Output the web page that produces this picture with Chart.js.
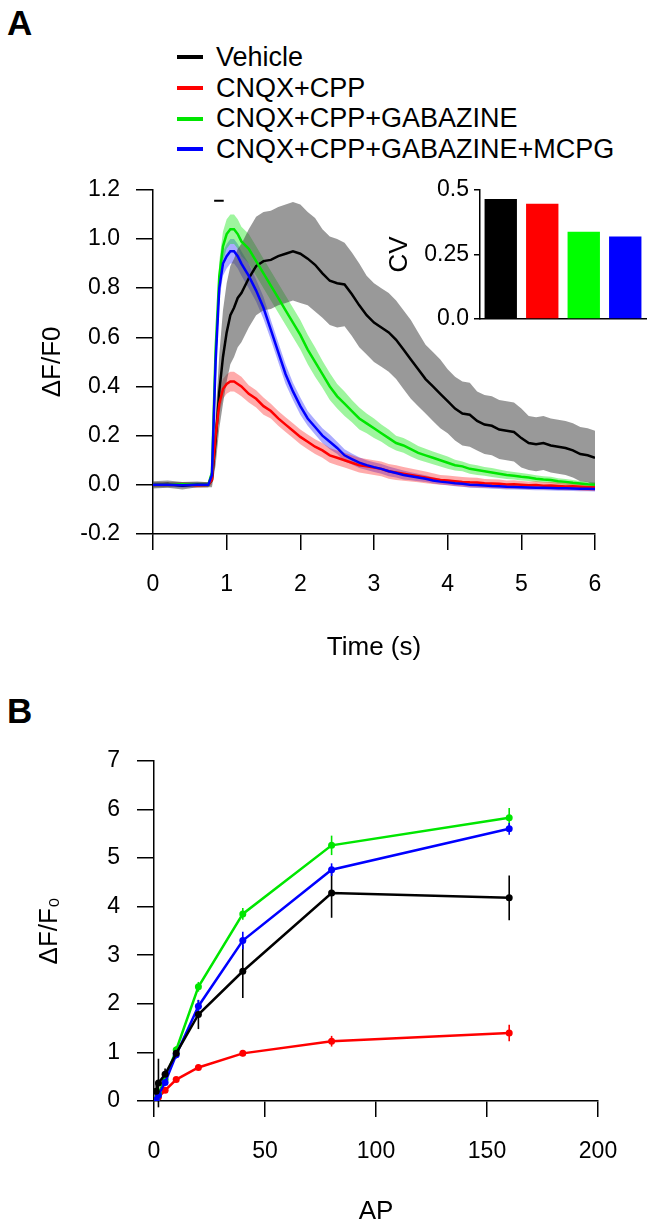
<!DOCTYPE html>
<html>
<head>
<meta charset="utf-8">
<script src="https://cdn.jsdelivr.net/npm/chart.js@4.4.1/dist/chart.umd.min.js"></script>
<style>
  html, body { margin: 0; padding: 0; background: #fff; }
  body { width: 653px; height: 1230px; position: relative; overflow: hidden;
         font-family: "Liberation Sans", Arial, Helvetica, sans-serif; color: #000; }
  .box { position: absolute; }
  .letter { position: absolute; font-weight: bold; font-size: 35px; line-height: 1; }
  #legend { position: absolute; left: 177px; top: 42px; }
  .row { display: flex; align-items: center; height: 30.7px; font-size: 27px; white-space: nowrap; }
  .swatch { width: 26px; height: 4px; margin-right: 13px; }
</style>
</head>
<body>
<div class="letter" style="left:7px;top:5px">A</div>
<div id="legend"></div>
<div class="box" style="left:0;top:160px;width:653px;height:520px"><canvas id="traceChart"></canvas></div>
<div class="box" style="left:380px;top:170px;width:273px;height:170px"><canvas id="cvChart"></canvas></div>
<div class="letter" style="left:7px;top:693px">B</div>
<div class="box" style="left:0;top:730px;width:653px;height:500px"><canvas id="apChart"></canvas></div>

<script>
// condition names and colours
const conditions = ['Vehicle', 'CNQX+CPP', 'CNQX+CPP+GABAZINE', 'CNQX+CPP+GABAZINE+MCPG'];
const lineColors = ['#000000', '#ff0000', '#00e600', '#0000ff'];
const bandColors = ['rgba(70,70,70,0.55)', 'rgba(255,0,0,0.33)', 'rgba(0,230,0,0.38)', 'rgba(0,0,255,0.33)'];

// panel A: mean trace and SEM (s, dF/F0)
const timeS = [0, 0.2, 0.4, 0.6, 0.75,
  0.8, 0.85, 0.9, 0.95, 1.0, 1.05, 1.1, 1.15, 1.2,
  1.3, 1.4, 1.5, 1.6, 1.7, 1.8, 1.9, 2.0, 2.1, 2.2,
  2.3, 2.4, 2.5, 2.6, 2.7, 2.8, 2.9, 3.0, 3.1, 3.2,
  3.3, 3.4, 3.5, 3.6, 3.7, 3.8, 3.9, 4.0, 4.1, 4.2,
  4.3, 4.4, 4.5, 4.6, 4.7, 4.8, 4.9, 5.0, 5.1, 5.2,
  5.3, 5.4, 5.5, 5.6, 5.7, 5.8, 5.9, 6.0];

const vehicleMean = [0.0, 0.003, -0.004, 0.002, 0.0,
  0.02, 0.18, 0.38, 0.52, 0.62, 0.69, 0.72, 0.76, 0.78,
  0.84, 0.89, 0.91, 0.915, 0.93, 0.94, 0.95, 0.94, 0.92, 0.895,
  0.86, 0.83, 0.82, 0.815, 0.775, 0.73, 0.69, 0.66, 0.64, 0.62,
  0.59, 0.55, 0.51, 0.47, 0.43, 0.40, 0.37, 0.34, 0.31, 0.29,
  0.285, 0.26, 0.245, 0.24, 0.225, 0.22, 0.215, 0.19, 0.17, 0.165,
  0.17, 0.16, 0.155, 0.15, 0.14, 0.125, 0.12, 0.11];
const vehicleSem = [0.015, 0.015, 0.015, 0.012, 0.01,
  0.03, 0.1, 0.15, 0.19, 0.2, 0.2, 0.2, 0.2, 0.2,
  0.2, 0.2, 0.2, 0.2, 0.2, 0.2, 0.2, 0.2, 0.19, 0.19,
  0.18, 0.18, 0.18, 0.17, 0.17, 0.17, 0.16, 0.16, 0.16, 0.16,
  0.16, 0.16, 0.16, 0.15, 0.14, 0.14, 0.14, 0.13, 0.13, 0.13,
  0.13, 0.12, 0.12, 0.12, 0.12, 0.12, 0.12, 0.12, 0.11, 0.11,
  0.11, 0.11, 0.11, 0.11, 0.11, 0.11, 0.11, 0.11];

const cnqxMean = [0.0, 0.0, 0.002, -0.002, 0.0,
  0.02, 0.2, 0.33, 0.39, 0.41, 0.42, 0.42, 0.41, 0.40,
  0.37, 0.35, 0.32, 0.30, 0.27, 0.245, 0.22, 0.195, 0.175, 0.155,
  0.14, 0.12, 0.11, 0.10, 0.09, 0.08, 0.075, 0.07, 0.065, 0.055,
  0.05, 0.045, 0.04, 0.035, 0.03, 0.025, 0.02, 0.018, 0.015, 0.012,
  0.01, 0.009, 0.006, 0.005, 0.004, 0.001, 0.002, 0.0, -0.002, -0.001,
  -0.004, -0.003, -0.005, -0.007, -0.006, -0.008, -0.01, -0.01];
const cnqxSem = [0.01, 0.01, 0.01, 0.01, 0.01,
  0.02, 0.04, 0.04, 0.04, 0.04, 0.04, 0.04, 0.04, 0.04,
  0.035, 0.035, 0.035, 0.03, 0.03, 0.03, 0.03, 0.03, 0.03, 0.03,
  0.03, 0.03, 0.03, 0.03, 0.03, 0.03, 0.03, 0.03, 0.03, 0.03,
  0.03, 0.028, 0.026, 0.025, 0.024, 0.022, 0.02, 0.02, 0.02, 0.02,
  0.02, 0.02, 0.018, 0.018, 0.018, 0.017, 0.017, 0.016, 0.016, 0.016,
  0.015, 0.015, 0.015, 0.015, 0.015, 0.015, 0.015, 0.015];

const gabazineMean = [0.0, 0.0, 0.002, 0.0, 0.0,
  0.05, 0.55, 0.85, 0.97, 1.02, 1.04, 1.04, 1.02, 0.99,
  0.96, 0.91, 0.86, 0.81, 0.76, 0.71, 0.66, 0.61, 0.55, 0.50,
  0.45, 0.40, 0.36, 0.33, 0.30, 0.27, 0.25, 0.23, 0.21, 0.19,
  0.17, 0.16, 0.145, 0.13, 0.12, 0.11, 0.10, 0.09, 0.08, 0.075,
  0.065, 0.06, 0.055, 0.05, 0.045, 0.04, 0.037, 0.033, 0.03, 0.025,
  0.022, 0.02, 0.015, 0.012, 0.008, 0.005, 0.002, 0.0];
const gabazineSem = [0.01, 0.01, 0.01, 0.01, 0.01,
  0.02, 0.05, 0.06, 0.06, 0.06, 0.06, 0.06, 0.06, 0.06,
  0.06, 0.06, 0.06, 0.06, 0.06, 0.06, 0.06, 0.06, 0.06, 0.06,
  0.055, 0.055, 0.05, 0.05, 0.045, 0.045, 0.04, 0.04, 0.035, 0.035,
  0.03, 0.03, 0.03, 0.028, 0.027, 0.026, 0.025, 0.025, 0.022, 0.02,
  0.02, 0.02, 0.018, 0.018, 0.017, 0.016, 0.015, 0.015, 0.014, 0.014,
  0.013, 0.013, 0.012, 0.012, 0.012, 0.011, 0.011, 0.01];

const mcpgMean = [0.0, 0.0, -0.002, 0.0, 0.0,
  0.04, 0.5, 0.8, 0.9, 0.93, 0.95, 0.95, 0.93, 0.90,
  0.85, 0.79, 0.72, 0.63, 0.54, 0.45, 0.38, 0.32, 0.27, 0.235,
  0.20, 0.175, 0.15, 0.12, 0.105, 0.09, 0.08, 0.072, 0.065, 0.055,
  0.048, 0.04, 0.035, 0.03, 0.025, 0.018, 0.013, 0.01, 0.006, 0.004,
  0.0, -0.001, -0.003, -0.005, -0.006, -0.008, -0.009, -0.01, -0.011, -0.012,
  -0.012, -0.013, -0.014, -0.014, -0.015, -0.016, -0.016, -0.017];
const mcpgSem = [0.01, 0.01, 0.01, 0.01, 0.01,
  0.02, 0.04, 0.05, 0.05, 0.05, 0.05, 0.05, 0.05, 0.05,
  0.05, 0.045, 0.045, 0.04, 0.04, 0.04, 0.035, 0.035, 0.03, 0.03,
  0.03, 0.03, 0.025, 0.025, 0.022, 0.022, 0.02, 0.02, 0.02, 0.02,
  0.018, 0.018, 0.016, 0.015, 0.014, 0.013, 0.012, 0.012, 0.012, 0.012,
  0.012, 0.012, 0.011, 0.011, 0.011, 0.011, 0.01, 0.01, 0.01, 0.01,
  0.01, 0.01, 0.01, 0.01, 0.01, 0.01, 0.01, 0.01];

// stimulus bar above the traces
const stimStart = 0.83, stimEnd = 0.96, stimLevel = 1.155;

// inset: coefficient of variation
const cvValues = [0.465, 0.447, 0.338, 0.32];

// panel B: peak amplitude vs number of APs
const apCounts = [1, 2, 5, 10, 20, 40, 80, 160];
const vehicleAmp = [0.2, 0.37, 0.55, 0.98, 1.78, 2.67, 4.28, 4.18];
const vehicleAmpErr = [0.15, 0.5, 0.12, 0.1, 0.3, 0.55, 0.51, 0.46];
const cnqxAmp = [0.02, 0.08, 0.22, 0.44, 0.69, 0.98, 1.23, 1.40];
const cnqxAmpErr = [0.01, 0.02, 0.03, 0.04, 0.05, 0.06, 0.11, 0.17];
const gabazineAmp = [0.03, 0.15, 0.45, 1.05, 2.35, 3.85, 5.26, 5.83];
const gabazineAmpErr = [0.02, 0.05, 0.08, 0.08, 0.1, 0.12, 0.2, 0.2];
const mcpgAmp = [0.02, 0.12, 0.38, 0.95, 1.95, 3.3, 4.76, 5.6];
const mcpgAmpErr = [0.02, 0.04, 0.06, 0.07, 0.13, 0.18, 0.13, 0.12];

Chart.defaults.font.family = '"Liberation Sans", Arial, Helvetica, sans-serif';
Chart.defaults.color = '#000';
Chart.defaults.animation = false;
Chart.defaults.events = [];
Chart.defaults.plugins.legend.display = false;
Chart.defaults.plugins.tooltip.enabled = false;

// legend (html)
const legendEl = document.getElementById('legend');
conditions.forEach((name, i) => {
  const row = document.createElement('div');
  row.className = 'row';
  row.innerHTML = '<span class="swatch" style="background:' + lineColors[i] + '"></span><span>' + name + '</span>';
  legendEl.appendChild(row);
});

const axisGrid = len => ({ display: true, drawOnChartArea: false, drawTicks: true, tickLength: len, color: '#000', lineWidth: 1.5 });
const axisBorder = { display: true, color: '#000', width: 1.5 };
const pts = (xs, ys) => xs.map((x, i) => ({ x: x, y: ys[i] }));
const oneDecimal = v => (Math.abs(v) < 1e-9 ? '0.0' : v.toFixed(1));

// panel A
const means = [vehicleMean, cnqxMean, gabazineMean, mcpgMean];
const sems = [vehicleSem, cnqxSem, gabazineSem, mcpgSem];
const traceSets = [];
means.forEach((m, i) => {
  traceSets.push({
    data: pts(timeS, m.map((v, j) => v + sems[i][j])),
    borderColor: 'transparent', backgroundColor: bandColors[i],
    pointRadius: 0, fill: '+1', order: 20 + i
  });
  traceSets.push({
    data: pts(timeS, m.map((v, j) => v - sems[i][j])),
    borderColor: 'transparent', pointRadius: 0, fill: false, order: 20 + i
  });
});
means.forEach((m, i) => {
  traceSets.push({
    data: pts(timeS, m), borderColor: lineColors[i], borderWidth: 2.5,
    pointRadius: 0, fill: false, order: 4 - i
  });
});
traceSets.push({
  data: [{ x: stimStart, y: stimLevel }, { x: stimEnd, y: stimLevel }],
  borderColor: '#000', borderWidth: 2, pointRadius: 0, fill: false, order: 0
});

new Chart(document.getElementById('traceChart'), {
  type: 'line',
  data: { datasets: traceSets },
  options: {
    responsive: true, maintainAspectRatio: false,
    layout: { padding: { top: 29, right: 58, left: 0, bottom: 0 } },
    elements: { line: { tension: 0 } },
    scales: {
      x: {
        type: 'linear', min: 0, max: 6,
        ticks: { stepSize: 1, padding: 21, font: { size: 23 }, color: '#000' },
        grid: axisGrid(16), border: axisBorder,
        title: { display: true, text: 'Time (s)', font: { size: 26 }, padding: { top: 0, bottom: 17 } },
        afterFit: s => { s.height = 146; }
      },
      y: {
        min: -0.2, max: 1.2,
        ticks: { stepSize: 0.2, padding: 16, font: { size: 23 }, color: '#000', callback: oneDecimal },
        grid: axisGrid(17), border: axisBorder,
        title: { display: true, text: 'ΔF/F0', font: { size: 26 }, padding: { top: 37, bottom: 0 } },
        afterFit: s => { s.width = 153; }
      }
    }
  }
});

// inset bar chart
new Chart(document.getElementById('cvChart'), {
  type: 'bar',
  data: {
    labels: conditions,
    datasets: [{ data: cvValues, backgroundColor: ['#000000', '#ff0000', '#00ff00', '#0000ff'],
      barPercentage: 0.78, categoryPercentage: 1.0 }]
  },
  options: {
    responsive: true, maintainAspectRatio: false,
    layout: { padding: { top: 20, right: 7, left: 0, bottom: 0 } },
    scales: {
      x: {
        ticks: { display: false }, grid: { display: false }, border: axisBorder,
        afterFit: s => { s.height = 21; }
      },
      y: {
        min: 0, max: 0.5,
        ticks: { stepSize: 0.25, padding: 5, font: { size: 23 }, color: '#000',
          callback: v => (v === 0.25 ? '0.25' : oneDecimal(v)) },
        grid: axisGrid(6), border: axisBorder,
        title: { display: true, text: 'CV', font: { size: 26 }, padding: { top: 4, bottom: 0 } },
        afterFit: s => { s.width = 100; }
      }
    }
  }
});

// panel B with error bars drawn through the scales
const errorBars = {
  id: 'errorBars',
  beforeDatasetsDraw(chart) {
    const { ctx, scales: { x, y } } = chart;
    chart.data.datasets.forEach(ds => {
      if (!ds.errors) return;
      ctx.save();
      ctx.strokeStyle = ds.borderColor;
      ctx.lineWidth = 1.6;
      ds.data.forEach((p, j) => {
        const px = x.getPixelForValue(p.x);
        ctx.beginPath();
        ctx.moveTo(px, y.getPixelForValue(p.y - ds.errors[j]));
        ctx.lineTo(px, y.getPixelForValue(p.y + ds.errors[j]));
        ctx.stroke();
      });
      ctx.restore();
    });
  }
};

const amps = [vehicleAmp, cnqxAmp, gabazineAmp, mcpgAmp];
const ampErrs = [vehicleAmpErr, cnqxAmpErr, gabazineAmpErr, mcpgAmpErr];
const drawOrder = [0, 3, 2, 1];

new Chart(document.getElementById('apChart'), {
  type: 'line',
  data: {
    datasets: amps.map((a, i) => ({
      data: pts(apCounts, a), errors: ampErrs[i],
      borderColor: lineColors[i], backgroundColor: lineColors[i],
      borderWidth: 2.5, pointRadius: 3.5, pointBorderWidth: 0,
      pointBackgroundColor: lineColors[i], fill: false, order: drawOrder[i]
    }))
  },
  plugins: [errorBars],
  options: {
    responsive: true, maintainAspectRatio: false,
    layout: { padding: { top: 24, right: 55, left: 0, bottom: 0 } },
    elements: { line: { tension: 0 } },
    scales: {
      x: {
        type: 'linear', min: 0, max: 200,
        ticks: { stepSize: 50, padding: 21, font: { size: 23 }, color: '#000' },
        grid: axisGrid(16), border: axisBorder,
        title: { display: true, text: 'AP', font: { size: 26 }, padding: { top: 0, bottom: 3 } },
        afterFit: s => { s.height = 129; }
      },
      y: {
        min: 0, max: 7,
        ticks: { stepSize: 1, padding: 17, font: { size: 23 }, color: '#000' },
        grid: axisGrid(17), border: axisBorder,
        title: { display: true, text: 'ΔF/F₀', font: { size: 26 }, padding: { top: 34, bottom: 0 } },
        afterFit: s => { s.width = 154; }
      }
    }
  }
});
</script>
</body>
</html>
